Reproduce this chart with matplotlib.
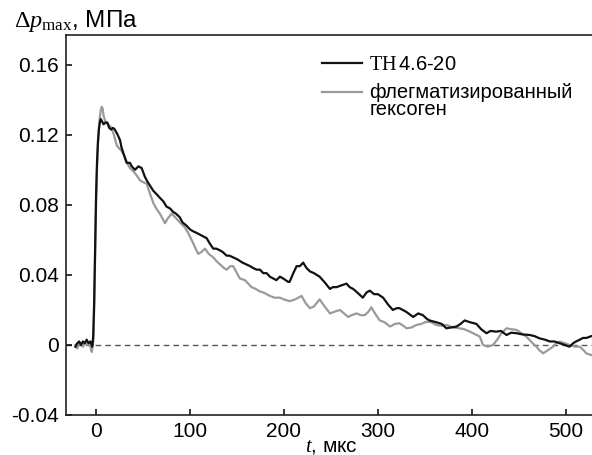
import matplotlib
matplotlib.use("Agg")
import numpy as np
import matplotlib.pyplot as plt
from matplotlib.legend_handler import HandlerLine2D

plt.rcParams["font.family"] = ["Liberation Sans", "DejaVu Sans"]
plt.rcParams["mathtext.fontset"] = "custom"
plt.rcParams["mathtext.rm"] = "Liberation Serif"
plt.rcParams["mathtext.it"] = "Liberation Serif:italic"

# TH 4.6-20 (black curve): time, us / pressure, MPa
th_t = [-22, -20, -18, -16, -14, -12, -10, -8, -6, -4, -3, -2, -1, 0, 1, 2, 3, 4, 5, 6,
        8, 10, 12, 14, 16, 18, 20, 23, 25.5, 27, 30, 32.6, 36, 38, 41.5, 45, 48.6, 52, 55,
        57.4, 61, 64.6, 68, 71.6, 75, 78.7, 82, 85, 89, 92, 96.5, 100, 103, 107, 110.6,
        114, 117.7, 121, 124.8, 128, 132, 135, 139, 142, 146, 150, 153, 156, 160, 164,
        167, 171, 174.5, 178, 181.6, 185, 188.6, 192, 195.7, 199, 204.6, 206, 210, 213.5,
        217, 220.5, 224, 227.7, 232, 238, 243, 249, 252, 256, 261, 266.7, 270, 273.7,
        278, 284, 288, 291.5, 296, 300, 305.6, 311, 316, 320, 323, 330, 337.6, 343, 348,
        352, 355, 362, 368, 373, 378, 383.7, 388, 392.5, 398, 405, 410, 415.6, 420, 426,
        431, 437, 442, 447.6, 454, 461.7, 467, 472, 478, 483, 488, 493.6, 499, 504, 508,
        511, 515, 518.4, 522, 527]
th_p = [-0.001, 0.001, 0.002, 0.0, 0.002, 0.001, 0.003, 0.001, 0.002, -0.001, 0.005,
        0.025, 0.055, 0.085, 0.104, 0.116, 0.123, 0.127, 0.129, 0.128,
        0.126, 0.127, 0.127, 0.124, 0.123, 0.124, 0.123, 0.120, 0.117, 0.113, 0.108,
        0.104, 0.104, 0.102, 0.100, 0.102, 0.101, 0.096, 0.093,
        0.091, 0.088, 0.086, 0.084, 0.082, 0.079, 0.078, 0.076, 0.075, 0.073, 0.070,
        0.068, 0.066, 0.065, 0.064, 0.063,
        0.062, 0.061, 0.058, 0.055, 0.055, 0.054, 0.053, 0.051, 0.051, 0.050, 0.049,
        0.048, 0.047, 0.046, 0.045,
        0.044, 0.043, 0.043, 0.041, 0.041, 0.039, 0.038, 0.037, 0.039, 0.038, 0.036,
        0.036, 0.041, 0.045,
        0.045, 0.047, 0.044, 0.042, 0.041, 0.039, 0.036, 0.032, 0.033, 0.033, 0.034,
        0.035, 0.033, 0.032,
        0.030, 0.027, 0.030, 0.031, 0.029, 0.029, 0.027, 0.023, 0.020, 0.021, 0.021,
        0.019, 0.016, 0.018, 0.017,
        0.015, 0.014, 0.013, 0.012, 0.0095, 0.010, 0.0105, 0.012, 0.014, 0.013, 0.012,
        0.009, 0.0067, 0.008, 0.0076,
        0.008, 0.0057, 0.007, 0.0067, 0.006, 0.0057, 0.005, 0.0038, 0.003, 0.002, 0.002,
        0.001, 0.0, -0.001, 0.001,
        0.002, 0.003, 0.004, 0.004, 0.005]

# phlegmatized hexogen (grey curve)
hex_t = [-22, -20, -18, -16, -14, -12, -10, -8, -6, -4.6, -3, -2, -1, 0, 1, 2, 3, 4, 5, 6,
         7, 8, 9.6, 11, 13, 15, 17, 19, 22, 25, 27, 30, 33, 36, 40, 43, 46.8, 50, 54, 57,
         61, 64, 68, 70, 73.4, 76, 80.5, 84, 87.6, 91, 94.7, 98, 103.5, 106, 108.8, 112,
         116, 120, 124.8, 128, 132, 136, 139, 143, 146, 150, 153, 158.5, 162, 165.6, 170,
         174.5, 178, 185, 190, 195.7, 200, 206, 212, 218.8, 223, 227.7, 232, 238, 242,
         249, 254, 259.6, 264, 268.4, 272, 277.3, 282, 286, 290, 293, 297, 302, 307, 313,
         318, 323, 327, 330.5, 336, 341, 346, 352, 357, 362, 367, 373, 380, 387, 392, 398,
         404, 408.5, 412, 417, 422.7, 427, 432, 437, 442, 447.6, 452, 458, 463, 468.8,
         472, 476, 481, 486.5, 490, 493.6, 499, 504, 510, 515, 519, 522, 527]
hex_p = [0.0, -0.002, 0.001, 0.0, -0.001, 0.001, 0.0, 0.001, -0.001, -0.004, 0.002,
         0.020, 0.050, 0.080, 0.100, 0.114, 0.124, 0.130, 0.134, 0.136,
         0.135, 0.131, 0.128, 0.127, 0.1257, 0.125, 0.123, 0.120, 0.114, 0.112, 0.111,
         0.108, 0.104, 0.101, 0.099, 0.097, 0.094, 0.093, 0.092, 0.087,
         0.081, 0.078, 0.075, 0.073, 0.0695, 0.072, 0.075, 0.073, 0.071, 0.069, 0.067,
         0.064, 0.058, 0.055, 0.052, 0.053,
         0.055, 0.052, 0.050, 0.048, 0.046, 0.044, 0.043, 0.045, 0.045, 0.041, 0.038,
         0.037, 0.035, 0.033, 0.032,
         0.0305, 0.030, 0.028, 0.027, 0.027, 0.026, 0.025, 0.026, 0.028, 0.024, 0.021,
         0.022, 0.026, 0.023,
         0.018, 0.019, 0.020, 0.018, 0.016, 0.017, 0.018, 0.017, 0.017, 0.019, 0.0215,
         0.018, 0.014, 0.013, 0.0105,
         0.012, 0.0124, 0.011, 0.0095, 0.010, 0.0114, 0.012, 0.0133, 0.013, 0.0114,
         0.011, 0.0114, 0.010, 0.0095, 0.009, 0.0076,
         0.006, 0.0048, 0.0, -0.001, 0.0, 0.003, 0.007, 0.0095, 0.009, 0.0086, 0.007,
         0.0048, 0.002, -0.001,
         -0.003, -0.0048, -0.003, -0.001, 0.001, 0.0019, 0.001, 0.0, -0.001, -0.001,
         -0.003, -0.0048, -0.0057]

labels = [r"$\mathrm{ТН}\,$4.6-20", "флегматизированный\nгексоген"]


class FirstLineHandler(HandlerLine2D):
    # put the legend line next to the first line of a two-line label
    def create_artists(self, legend, orig_handle, xdescent, ydescent, width, height,
                       fontsize, trans):
        arts = super().create_artists(legend, orig_handle, xdescent, ydescent, width,
                                      height, fontsize, trans)
        for a in arts:
            a.set_ydata(np.asarray(a.get_ydata()) + 0.5 * fontsize)
        return arts


fig = plt.figure(figsize=(5.92, 4.55), dpi=100)
ax = fig.add_axes([66 / 592, 40 / 455, 526 / 592, 380 / 455])

ax.axhline(0, color="#555555", lw=1.0, ls=(0, (4, 3)), zorder=1)
l_hex, = ax.plot(hex_t, hex_p, color="#9a9a9a", lw=1.6, zorder=2)
l_th, = ax.plot(th_t, th_p, color="#111111", lw=1.6, zorder=3)

ax.set_xlim(-32, 528)
ax.set_ylim(-0.04, 0.177)
ax.set_xticks([0, 100, 200, 300, 400, 500])
ax.set_yticks([-0.04, 0, 0.04, 0.08, 0.12, 0.16])
ax.set_yticklabels(["-0.04", "0", "0.04", "0.08", "0.12", "0.16"])
ax.tick_params(direction="in", length=4, width=1.1, labelsize=15, pad=5)
ax.spines["right"].set_visible(False)
for s in ["left", "bottom", "top"]:
    ax.spines[s].set_linewidth(1.2)
    ax.spines[s].set_color("#222222")

leg = ax.legend([l_th, l_hex], labels,
                handler_map={l_hex: FirstLineHandler()},
                loc="upper left", bbox_to_anchor=(0.487, 0.947), frameon=False,
                fontsize=14.5, handlelength=2.0, handletextpad=0.35,
                borderpad=0, borderaxespad=0, labelspacing=0.45)
for t in leg.get_texts():
    t.set_linespacing(0.88)

fig.text(14 / 592, 1 - 27 / 455, r"$\Delta p_{\mathrm{max}}$, МПа", fontsize=17.5,
         va="baseline", ha="left")
fig.text(305 / 592, 1 - 451 / 455, r"$t$, мкс", fontsize=15,
         va="baseline", ha="left")

fig.savefig("out.png", dpi=100)
